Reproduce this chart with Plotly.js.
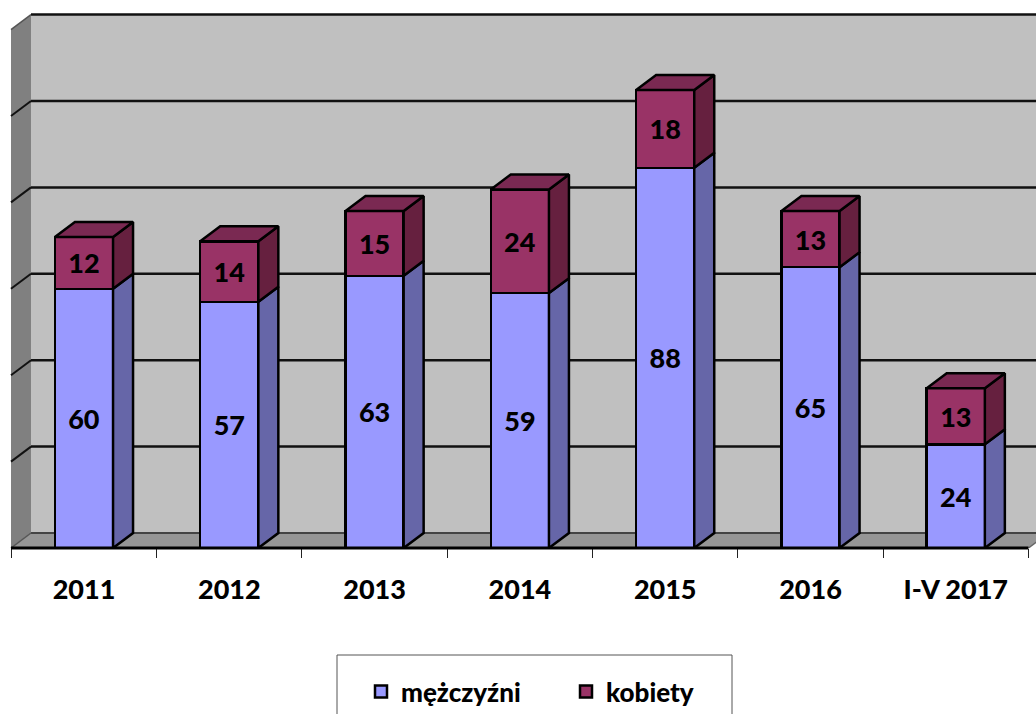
<!DOCTYPE html>
<html><head><meta charset="utf-8">
<script src="https://cdn.plot.ly/plotly-3.0.1.min.js"></script>
<style>html,body{margin:0;padding:0;background:#fff;overflow:hidden}#c{width:1036px;height:714px}</style>
</head><body><div id="c"></div>
<script>
// Data
const categories = ['2011','2012','2013','2014','2015','2016','I-V 2017'];
const men = [60,57,63,59,88,65,24];
const women = [12,14,15,24,18,13,13];
const gridValues = [20,40,60,80,100,120];

// Colours
const menFront='#9999FF', menSide='#6666A8';
const womenFront='#993366', womenSide='#66203F', womenTop='#7A2952';

// Pseudo-3D geometry, in axis units
const hw=0.2, dx=0.1376, dy=3.47;
const xs=categories.map((c,i)=>i);
const xMin=-0.578, xMax=6.552, yMax=126.85;
const edges=[-0.5,0.5,1.5,2.5,3.5,4.5,5.5,6.5];

function poly(pts,store){pts.forEach(p=>{store.x.push(p[0]);store.y.push(p[1]);});store.x.push(pts[0][0],null);store.y.push(pts[0][1],null);}
const mS={x:[],y:[]},wS={x:[],y:[]},wT={x:[],y:[]};
xs.forEach(i=>{
  const r=i+hw,l=i-hw,a=men[i],b=men[i]+women[i];
  poly([[r,0],[r+dx,dy],[r+dx,a+dy],[r,a]],mS);
  poly([[r,a],[r+dx,a+dy],[r+dx,b+dy],[r,b]],wS);
  poly([[l,b],[l+dx,b+dy],[r+dx,b+dy],[r,b]],wT);
});
const face=(s,col)=>({type:'scatter',mode:'lines',x:s.x,y:s.y,fill:'toself',fillcolor:col,
  line:{color:'#000',width:2.5},showlegend:false,hoverinfo:'skip'});

const labelFont={family:'Lato, sans-serif',size:27,color:'#000',weight:900};
const bar=(name,vals,col)=>({type:'bar',name:name,x:xs,y:vals,width:2*hw,text:vals.map(String),
  textposition:'inside',insidetextanchor:'middle',textangle:0,constraintext:'none',
  insidetextfont:labelFont,marker:{color:col,line:{color:'#000',width:2.5}},hoverinfo:'skip'});

const X1=xMax+0.2,Wx=xMin+0.0757,XR=6.5;
const shapes=[
 {type:'path',layer:'below',xref:'x',yref:'y',line:{width:0},fillcolor:'#C0C0C0',
  path:`M${Wx+dx},${dy} L${X1},${dy} L${X1},${120+dy} L${Wx+dx},${120+dy} Z`},
 {type:'path',layer:'below',xref:'x',yref:'y',line:{width:0},fillcolor:'#808080',
  path:`M${Wx},0 L${Wx+dx},${dy} L${Wx+dx},${120+dy} L${Wx},120 Z`},
 {type:'path',layer:'below',xref:'x',yref:'y',line:{width:0},fillcolor:'#969696',
  path:`M${Wx},0 L${Wx+dx},${dy} L${XR+dx},${dy} L${XR},0 Z`},
 {type:'line',layer:'below',xref:'x',yref:'y',x0:Wx+dx,x1:X1,y0:dy,y1:dy,line:{color:'#444',width:2}},
 {type:'line',layer:'below',xref:'x',yref:'y',x0:Wx,x1:Wx+dx,y0:0,y1:dy,line:{color:'#555',width:1.5}},
 {type:'line',layer:'below',xref:'x',yref:'y',x0:XR,x1:XR+dx,y0:0,y1:dy,line:{color:'#666',width:1.5}}
];
gridValues.forEach(v=>{
  shapes.push({type:'line',layer:'below',xref:'x',yref:'y',x0:Wx+dx,x1:X1,y0:v+dy,y1:v+dy,line:{color:'#111',width:2.5}});
  shapes.push({type:'line',layer:'below',xref:'x',yref:'y',x0:Wx,x1:Wx+dx,y0:v,y1:v+dy,line:{color:v===120?'#555':'#111',width:v===120?1.5:2}});
});
// front base line (paper y so it is not clipped at the plot edge)
shapes.push({type:'line',layer:'above',xref:'x',yref:'paper',x0:Wx,x1:XR,y0:0,y1:0,line:{color:'#000',width:3}});
// legend box
shapes.push({type:'rect',xref:'paper',yref:'paper',x0:337/1036,x1:732/1036,y0:-(655-548)/548,y1:-(725-548)/548,
  line:{color:'#555',width:1},fillcolor:'#fff'});

const layout={
  width:1036,height:714,margin:{l:0,r:0,t:0,b:166,autoexpand:false},
  paper_bgcolor:'#fff',plot_bgcolor:'rgba(0,0,0,0)',barmode:'stack',showlegend:true,
  font:{family:'Lato, sans-serif',color:'#000',weight:900},
  xaxis:{type:'linear',range:[xMin,xMax],tickmode:'array',tickvals:xs,ticktext:categories,ticks:'',showgrid:false,zeroline:false,
    showline:false,ticklabelstandoff:23,tickfont:{family:'Lato, sans-serif',size:27,color:'#000',weight:900},
    minor:{tickmode:'array',tickvals:edges,ticks:'outside',ticklen:9,tickwidth:1,tickcolor:'#222',showgrid:false}},
  yaxis:{range:[0,yMax],showticklabels:false,ticks:'',showgrid:false,zeroline:false,showline:false},
  legend:{orientation:'h',x:361/1036,xanchor:'left',y:-(668-548)/548,yanchor:'top',entrywidth:160,entrywidthmode:'pixels',
    font:{family:'Lato, sans-serif',size:26,color:'#000',weight:900},bgcolor:'rgba(0,0,0,0)',traceorder:'normal'},
  shapes:shapes
};
const data=[bar('mężczyźni',men,menFront),bar('kobiety',women,womenFront),
  face(mS,menSide),face(wS,womenSide),face(wT,womenTop)];
Plotly.newPlot('c',data,layout,{displayModeBar:false,staticPlot:true});
</script></body></html>
